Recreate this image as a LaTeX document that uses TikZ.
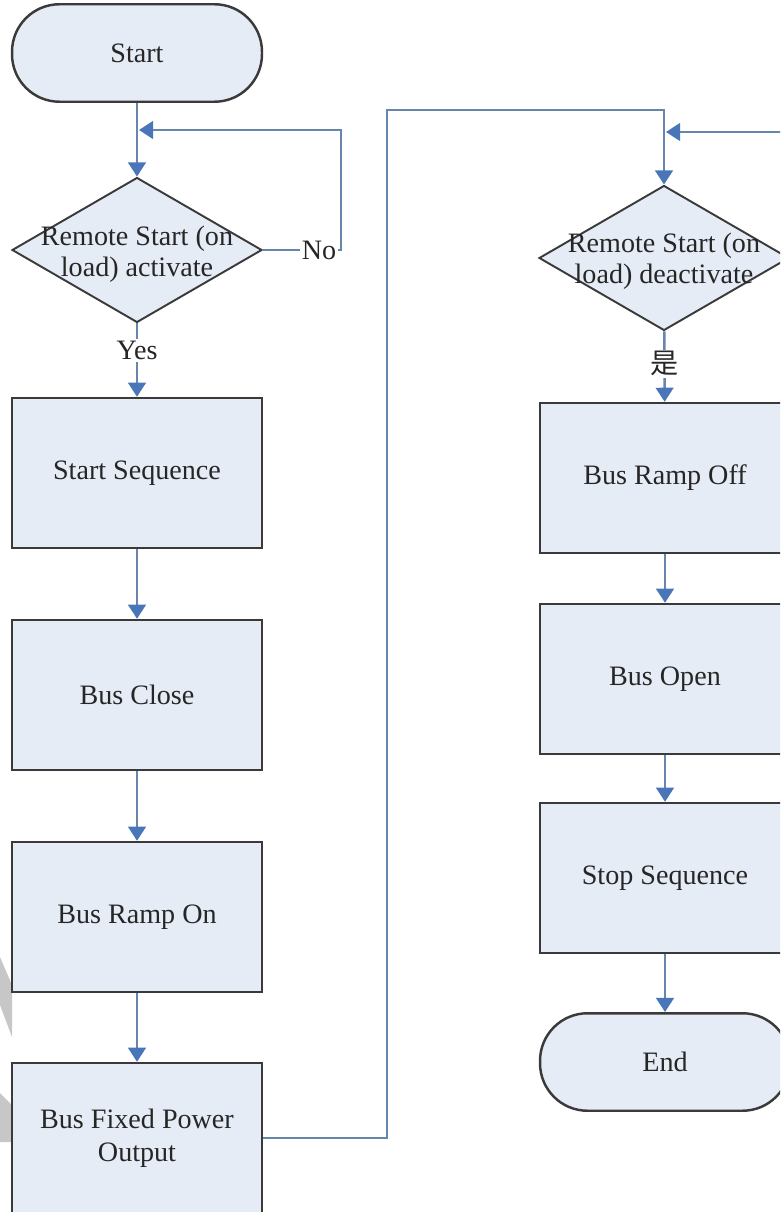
\documentclass[tikz,border=0pt]{standalone}
\usepackage{fontspec}
\setmainfont{Liberation Serif}
\newfontfamily\cjk{Noto Sans CJK SC}
\usetikzlibrary{shapes.geometric,arrows.meta}

\definecolor{boxfill}{RGB}{230,236,246}
\definecolor{boxline}{RGB}{58,58,58}
\definecolor{flowline}{RGB}{104,134,172}
\definecolor{tipblue}{RGB}{72,118,184}

\tikzset{
  proc/.style={draw=boxline,line width=1.4pt,fill=boxfill,text=black!85,
    minimum width=5cm,minimum height=3cm,align=center,
    font=\fontsize{16}{19}\selectfont},
  term/.style={proc,rounded corners=0.95cm,minimum height=1.95cm},
  dec/.style={diamond,draw=boxline,line width=1.1pt,fill=boxfill,
    minimum width=5cm,minimum height=2.9cm,inner sep=0pt},
  dectext/.style={align=center,text=black!85,inner sep=0pt,
    font=\fontsize{16}{17.5}\selectfont},
  flow/.style={draw=flowline,line width=1.4pt,
    -{Triangle[width=10pt,length=8pt,color=tipblue]}},
  tag/.style={fill=white,inner sep=1pt,text=black!85,
    font=\fontsize{16}{19}\selectfont}
}

\begin{document}
\begin{tikzpicture}[x=0.02cm,y=-0.02cm]

\useasboundingbox (0,0) rectangle (780,1212);
\clip (0,0) rectangle (780,1212);

% grey marks at the left edge
\fill[black!22] (0,957) -- (12,985) -- (12,1037) -- (0,1005) -- cycle;
\fill[black!22] (0,1093) -- (12,1105) -- (12,1142) -- (0,1142) -- cycle;

% left column
\node[term] (start) at (137,53) {Start};
\node[dec] (d1) at (137,250) {};
\node[dectext] at (137,254) {Remote Start (on\\load) activate};
\node[proc] (b1) at (137,473) {Start Sequence};
\node[proc] (b2) at (137,695) {Bus Close};
\node[proc] (b3) at (137,917) {Bus Ramp On};
\node[proc] (b4) at (137,1138) {Bus Fixed Power\\Output};

% right column
\node[dec] (d2) at (664,258) {};
\node[dectext] at (664,261) {Remote Start (on\\load) deactivate};
\node[proc] (b5) at (665,478) {Bus Ramp Off};
\node[proc] (b6) at (665,679) {Bus Open};
\node[proc] (b7) at (665,878) {Stop Sequence};
\node[term] (end) at (665,1062) {End};

\coordinate (j1) at (139,130);
\coordinate (j2) at (666,132);

\draw[flow] (start) -- (d1);
\draw[flow] (d1.east) -- node[tag,pos=.72] {No} ++(78,0) |- (j1);
\draw[flow] (d1) -- node[tag,pos=.37] {Yes} (b1);
\draw[flow] (b1) -- (b2);
\draw[flow] (b2) -- (b3);
\draw[flow] (b3) -- (b4);

\draw[flow] (b4.east) -- (387,1138) |- (664,110) -- (d2.north);
\draw[flow] (d2.east) -- ++(40,0) |- (j2);
\draw[flow] (d2) -- node[tag,pos=.46] {\cjk 是} (b5);
\draw[flow] (b5) -- (b6);
\draw[flow] (b6) -- (b7);
\draw[flow] (b7) -- (end);

\end{tikzpicture}
\end{document}
